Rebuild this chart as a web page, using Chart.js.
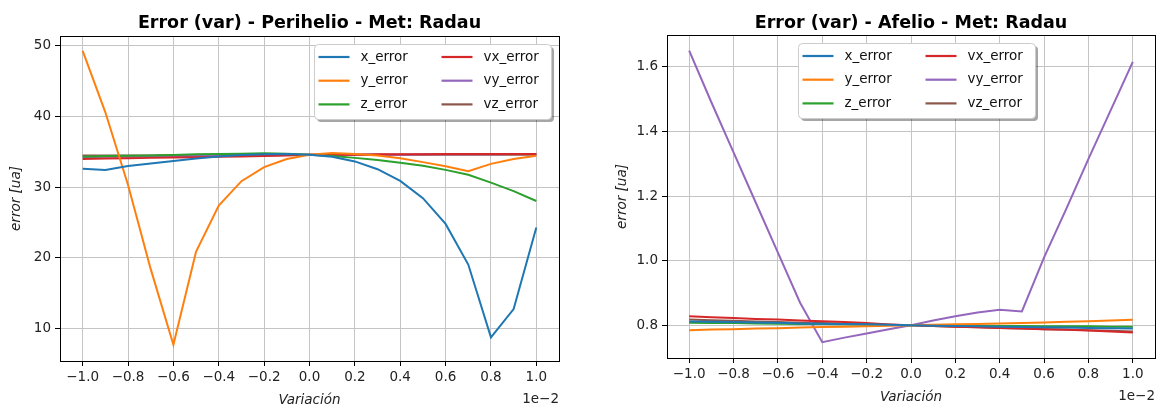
<!DOCTYPE html>
<html>
<head>
<meta charset="utf-8">
<script src="https://cdn.jsdelivr.net/npm/chart.js@4.4.0/dist/chart.umd.min.js"></script>
<style>
  body { margin: 0; background: #fff; }
  #wrap { position: relative; width: 1169px; height: 407px; }
  canvas { position: absolute; top: 0; }
</style>
</head>
<body>
<div id="wrap">
  <canvas id="periChart" width="580" height="407" style="left:0px"></canvas>
  <canvas id="afeChart" width="589" height="407" style="left:580px"></canvas>
</div>
<script>
// variation values (x axis, scaled by 1e-2)
const xVar = [-1.0, -0.9, -0.8, -0.7, -0.6, -0.5, -0.4, -0.3, -0.2, -0.1, 0.0,
              0.1, 0.2, 0.3, 0.4, 0.5, 0.6, 0.7, 0.8, 0.9, 1.0];
const xTicks = [-1.0, -0.8, -0.6, -0.4, -0.2, 0.0, 0.2, 0.4, 0.6, 0.8, 1.0];

const seriesNames = ['x_error', 'y_error', 'z_error', 'vx_error', 'vy_error', 'vz_error'];
const seriesColors = ['#1f77b4', '#ff7f0e', '#2ca02c', '#d62728', '#9467bd', '#8c564b'];

// Perihelio
const periX  = [32.6, 32.45, 33.0, 33.35, 33.7, 34.05, 34.35, 34.55, 34.65, 34.7, 34.6,
                34.3, 33.65, 32.55, 30.9, 28.45, 24.8, 19.05, 8.75, 12.75, 24.3];
const periY  = [49.3, 40.6, 30.3, 18.4, 7.7, 20.9, 27.4, 30.85, 32.85, 34.0, 34.6,
                34.85, 34.7, 34.5, 34.1, 33.55, 32.95, 32.25, 33.3, 34.0, 34.45];
const periZ  = [34.3, 34.4, 34.45, 34.5, 34.55, 34.65, 34.7, 34.75, 34.8, 34.75, 34.6,
                34.4, 34.15, 33.85, 33.45, 33.05, 32.45, 31.75, 30.65, 29.45, 28.05];
const periVx = [34.0, 34.05, 34.1, 34.15, 34.2, 34.25, 34.3, 34.35, 34.4, 34.5, 34.6,
                34.6, 34.6, 34.65, 34.65, 34.65, 34.7, 34.7, 34.7, 34.7, 34.7];
const periVy = [34.25, 34.3, 34.3, 34.35, 34.4, 34.4, 34.45, 34.5, 34.5, 34.55, 34.6,
                34.6, 34.6, 34.6, 34.6, 34.65, 34.65, 34.65, 34.65, 34.7, 34.7];
const periVz = [34.5, 34.5, 34.5, 34.5, 34.55, 34.55, 34.55, 34.55, 34.6, 34.6, 34.6,
                34.6, 34.6, 34.6, 34.6, 34.6, 34.6, 34.6, 34.6, 34.6, 34.6];
const periTicks = [10, 20, 30, 40, 50];

// Afelio
const afeX  = [0.812, 0.811, 0.810, 0.809, 0.808, 0.806, 0.805, 0.804, 0.803, 0.802, 0.800,
               0.799, 0.798, 0.797, 0.796, 0.795, 0.794, 0.793, 0.792, 0.791, 0.790];
const afeY  = [0.785, 0.787, 0.788, 0.790, 0.791, 0.793, 0.795, 0.796, 0.797, 0.799, 0.800,
               0.802, 0.803, 0.804, 0.806, 0.807, 0.809, 0.811, 0.813, 0.815, 0.817];
const afeZ  = [0.808, 0.807, 0.807, 0.806, 0.805, 0.804, 0.804, 0.803, 0.802, 0.801, 0.800,
               0.800, 0.799, 0.799, 0.798, 0.798, 0.797, 0.797, 0.797, 0.796, 0.796];
const afeVx = [0.828, 0.825, 0.823, 0.820, 0.818, 0.815, 0.813, 0.810, 0.807, 0.803, 0.800,
               0.798, 0.796, 0.794, 0.792, 0.790, 0.788, 0.786, 0.784, 0.781, 0.778];
const afeVy = [1.650, 1.490, 1.335, 1.180, 1.025, 0.870, 0.748, 0.762, 0.775, 0.788, 0.800,
               0.815, 0.828, 0.840, 0.848, 0.843, 1.010, 1.160, 1.315, 1.465, 1.615];
const afeVz = [0.818, 0.816, 0.814, 0.812, 0.810, 0.808, 0.807, 0.805, 0.804, 0.802, 0.800,
               0.798, 0.796, 0.794, 0.792, 0.790, 0.788, 0.787, 0.785, 0.783, 0.781];
const afeTicks = [0.8, 1.0, 1.2, 1.4, 1.6];

const FONT = '"DejaVu Sans"';

function fmtX(v) {
  return (v < 0 ? '\u2212' : '') + Math.abs(v).toFixed(1);
}

const decorPlugin = {
  id: 'decor',
  afterDraw(chart, args, opts) {
    const ctx = chart.ctx;
    const a = chart.chartArea;
    const cx = (a.left + a.right) / 2;
    const cy = (a.top + a.bottom) / 2;
    ctx.save();
    // frame
    ctx.strokeStyle = '#000';
    ctx.lineWidth = 1;
    ctx.strokeRect(Math.round(a.left) + 0.5, Math.round(a.top) + 0.5,
                   Math.round(a.right - a.left), Math.round(a.bottom - a.top));
    // title
    ctx.fillStyle = '#000';
    ctx.textAlign = 'center';
    ctx.textBaseline = 'alphabetic';
    ctx.font = 'bold 17.5px ' + FONT;
    ctx.fillText(opts.title, cx, opts.titleY);
    // axis labels
    ctx.font = 'italic 13.5px ' + FONT;
    ctx.fillStyle = '#222';
    ctx.fillText('Variación', cx, opts.xLabelY);
    ctx.textAlign = 'right';
    ctx.font = '13.5px ' + FONT;
    ctx.fillText('1e\u22122', a.right, opts.xLabelY - 1);
    ctx.save();
    ctx.translate(opts.yLabelX, cy);
    ctx.rotate(-Math.PI / 2);
    ctx.textAlign = 'center';
    ctx.textBaseline = 'middle';
    ctx.font = 'italic 13.5px ' + FONT;
    ctx.fillText('error [ua]', 0, 0);
    ctx.restore();
    // legend (inside the plot, with shadow)
    const lx = opts.legendX, ly = opts.legendY, lw = 237, lh = 75;
    ctx.fillStyle = 'rgba(0,0,0,0.35)';
    ctx.beginPath();
    ctx.roundRect(lx + 3, ly + 3, lw, lh, 4);
    ctx.fill();
    ctx.fillStyle = '#fff';
    ctx.strokeStyle = '#cccccc';
    ctx.beginPath();
    ctx.roundRect(lx + 0.5, ly + 0.5, lw, lh, 4);
    ctx.fill();
    ctx.stroke();
    ctx.font = '13.5px ' + FONT;
    ctx.textAlign = 'left';
    ctx.textBaseline = 'middle';
    ctx.lineWidth = 2.2;
    for (let i = 0; i < seriesNames.length; i++) {
      const col = Math.floor(i / 3);
      const row = i % 3;
      const x0 = lx + 4.5 + col * 123;
      const y0 = ly + 13 + row * 23.7;
      ctx.strokeStyle = seriesColors[i];
      ctx.beginPath();
      ctx.moveTo(x0, y0);
      ctx.lineTo(x0 + 31, y0);
      ctx.stroke();
      ctx.fillStyle = '#111';
      ctx.fillText(seriesNames[i], x0 + 42, y0);
    }
    ctx.restore();
  }
};

function makeChart(id, series, yTicks, yMin, yMax, yDigits, lay) {
  const datasets = series.map(function (vals, i) {
    return {
      label: seriesNames[i],
      data: xVar.map(function (x, j) { return { x: x, y: vals[j] }; }),
      borderColor: seriesColors[i],
      borderWidth: 2,
      pointRadius: 0,
      tension: 0,
      fill: false
    };
  });
  return new Chart(document.getElementById(id), {
    type: 'line',
    data: { datasets: datasets },
    plugins: [decorPlugin],
    options: {
      responsive: false,
      animation: false,
      layout: { padding: { top: lay.top, right: lay.right, left: 0, bottom: 0 } },
      plugins: {
        legend: { display: false },
        tooltip: { enabled: false },
        decor: lay
      },
      scales: {
        x: {
          type: 'linear',
          min: -1.1,
          max: 1.1,
          afterBuildTicks: function (scale) {
            scale.ticks = xTicks.map(function (v) { return { value: v }; });
          },
          afterFit: function (scale) { scale.height = lay.xAxisH; },
          ticks: {
            callback: function (v) { return fmtX(v); },
            font: { family: 'DejaVu Sans', size: 13.5 },
            color: '#222',
            padding: 3,
            maxRotation: 0,
            autoSkip: false
          },
          grid: { color: '#c4c4c4', lineWidth: 1, tickColor: '#000', tickLength: 5 },
          border: { display: false }
        },
        y: {
          type: 'linear',
          min: yMin,
          max: yMax,
          afterBuildTicks: function (scale) {
            scale.ticks = yTicks.map(function (v) { return { value: v }; });
          },
          afterFit: function (scale) { scale.width = lay.yAxisW; },
          ticks: {
            callback: function (v) { return v.toFixed(yDigits); },
            font: { family: 'DejaVu Sans', size: 13.5 },
            color: '#222',
            padding: 4,
            autoSkip: false
          },
          grid: { color: '#c4c4c4', lineWidth: 1, tickColor: '#000', tickLength: 5 },
          border: { display: false }
        }
      }
    }
  });
}

makeChart('periChart', [periX, periY, periZ, periVx, periVy, periVz], periTicks, 5.4, 51.4, 0, {
  title: 'Error (var) - Perihelio - Met: Radau',
  top: 36, right: 21, xAxisH: 46, yAxisW: 60,
  titleY: 28, xLabelY: 404, yLabelX: 16,
  legendX: 314, legendY: 44
});

makeChart('afeChart', [afeX, afeY, afeZ, afeVx, afeVy, afeVz], afeTicks, 0.699, 1.698, 1, {
  title: 'Error (var) - Afelio - Met: Radau',
  top: 35, right: 14, xAxisH: 49, yAxisW: 87,
  titleY: 28, xLabelY: 401, yLabelX: 42,
  legendX: 218, legendY: 43
});
</script>
</body>
</html>
